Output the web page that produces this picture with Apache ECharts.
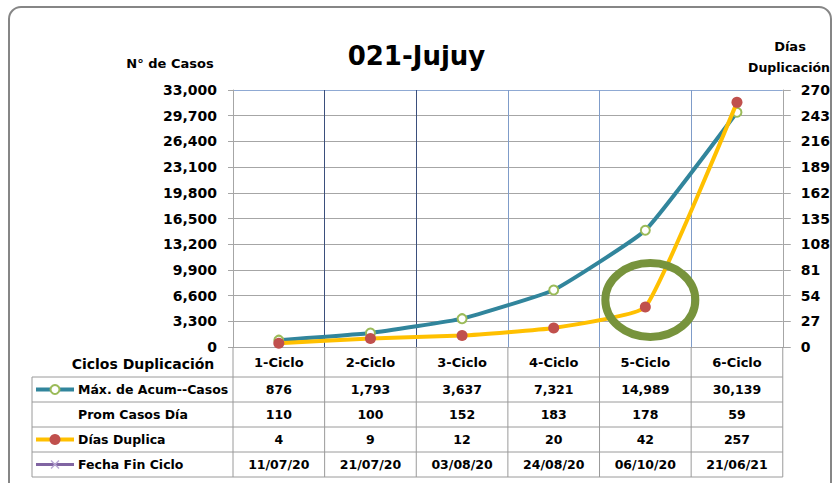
<!DOCTYPE html>
<html>
<head>
<meta charset="utf-8">
<script src="https://cdn.jsdelivr.net/npm/echarts@6/dist/echarts.min.js"></script>
<style>
  html, body { margin: 0; padding: 0; background: #fff; }
  #chart { width: 833px; height: 483px; }
</style>
</head>
<body>
<div id="chart"></div>
<script>
// datos del grafico
const ciclos = ['1-Ciclo', '2-Ciclo', '3-Ciclo', '4-Ciclo', '5-Ciclo', '6-Ciclo'];
const maxAcumCasos = [876, 1793, 3637, 7321, 14989, 30139];
const promCasosDia = [110, 100, 152, 183, 178, 59];
const diasDuplica = [4, 9, 12, 20, 42, 257];
const fechaFinCiclo = ['11/07/20', '21/07/20', '03/08/20', '24/08/20', '06/10/20', '21/06/21'];
const rowNames = ['Máx. de Acum--Casos', 'Prom Casos Día', 'Días Duplica', 'Fecha Fin Ciclo'];

const FONT = '"DejaVu Sans", sans-serif';
const TEAL = '#31859c';
const GREEN = '#9bbb59';
const YELLOW = '#ffc000';
const RED = '#c0504d';
const PURPLE = '#8064a2';
const GRID_GRAY = '#a6a6a6';
const TABLE_GRAY = '#9a9a9a';

const fmt = v => v.toLocaleString('en-US');

const chart = echarts.init(document.getElementById('chart'), null, { renderer: 'svg' });

const gridLeft = 233, gridRight = 46, gridTop = 90, gridBottom = 136;
const plotBottom = 483 - gridBottom;

const option = {
  animation: false,
  backgroundColor: '#fff',
  title: {
    text: '021-Jujuy',
    left: 'center',
    top: 38,
    textStyle: { fontFamily: FONT, fontSize: 26, fontWeight: 'bold', color: '#000' }
  },
  grid: { left: gridLeft, right: gridRight, top: gridTop, bottom: gridBottom, containLabel: false },
  xAxis: {
    type: 'category',
    data: ciclos,
    boundaryGap: true,
    axisLine: { lineStyle: { color: GRID_GRAY, width: 1 } },
    axisTick: { show: false },
    axisLabel: { fontFamily: FONT, fontSize: 13, fontWeight: 'bold', color: '#000', margin: 9 },
    splitLine: {
      show: true,
      lineStyle: {
        width: 1,
        color: [GRID_GRAY, '#3b4f7c', '#3b4f7c', '#7f9cc9', '#7f9cc9', '#7f9cc9', GRID_GRAY]
      }
    }
  },
  yAxis: [
    {
      type: 'value',
      min: 0,
      max: 33000,
      interval: 3300,
      axisLine: { show: true, lineStyle: { color: GRID_GRAY } },
      axisTick: { show: true, length: 5, lineStyle: { color: GRID_GRAY } },
      axisLabel: {
        fontFamily: FONT, fontSize: 14, fontWeight: 'bold', color: '#000', margin: 16,
        formatter: v => fmt(v)
      },
      splitLine: {
        lineStyle: {
          color: [GRID_GRAY, GRID_GRAY, GRID_GRAY, GRID_GRAY, GRID_GRAY, GRID_GRAY,
                  GRID_GRAY, GRID_GRAY, GRID_GRAY, GRID_GRAY, '#8fa9d3']
        }
      }
    },
    {
      type: 'value',
      min: 0,
      max: 270,
      interval: 27,
      position: 'right',
      axisLine: { show: true, lineStyle: { color: GRID_GRAY } },
      axisTick: { show: true, length: 8, lineStyle: { color: GRID_GRAY } },
      axisLabel: { fontFamily: FONT, fontSize: 14, fontWeight: 'bold', color: '#000', margin: 18 },
      splitLine: { show: false }
    }
  ],
  series: [
    {
      name: rowNames[0],
      type: 'line',
      data: maxAcumCasos,
      yAxisIndex: 0,
      smooth: 0.12,
      symbol: 'emptyCircle',
      symbolSize: 9,
      lineStyle: { color: TEAL, width: 4 },
      itemStyle: { color: GREEN, borderColor: GREEN, borderWidth: 2 },
      z: 3
    },
    {
      name: rowNames[2],
      type: 'line',
      data: diasDuplica,
      yAxisIndex: 1,
      smooth: 0.12,
      symbol: 'circle',
      symbolSize: 11,
      lineStyle: { color: YELLOW, width: 4 },
      itemStyle: { color: RED },
      z: 4
    }
  ]
};

chart.setOption(option);

// tabla de datos y anotaciones
const cx = ciclos.map((c, i) => chart.convertToPixel({ xAxisIndex: 0 }, i));
const half = (cx[1] - cx[0]) / 2;
const plotRight = cx[cx.length - 1] + half;
const tableLeft = 32;
const headerBottom = plotBottom + 30;
const rowH = 25;
const rows = [maxAcumCasos.map(fmt), promCasosDia.map(String), diasDuplica.map(String), fechaFinCiclo];

const g = [];
const txt = (x, y, text, opts) => g.push({
  type: 'text', x, y, z: 10,
  style: Object.assign({
    text, fontFamily: FONT, fontSize: 12, fontWeight: 'bold', fill: '#000',
    align: 'center', verticalAlign: 'middle'
  }, opts || {})
});
const seg = (x1, y1, x2, y2, stroke, lineWidth) => g.push({
  type: 'line', z: 9, silent: true,
  shape: { x1, y1, x2, y2 },
  style: { stroke, lineWidth: lineWidth || 1 }
});

// marco redondeado
g.push({
  type: 'rect', z: 0, silent: true,
  shape: { x: 9, y: 7, width: 822, height: 490, r: 12 },
  style: { fill: 'none', stroke: '#868686', lineWidth: 2 }
});

// titulos de ejes
txt(170, 63, 'N° de Casos', { fontSize: 13 });
txt(790, 46, 'Días', { fontSize: 13 });
txt(789, 67, 'Duplicación', { fontSize: 12.5 });

// encabezado
txt(143, plotBottom + 17, 'Ciclos Duplicación', { fontSize: 14 });

// lineas horizontales
for (let r = 0; r <= rows.length; r++) {
  const y = headerBottom + r * rowH;
  seg(tableLeft, y, plotRight, y, TABLE_GRAY);
}
const tableBottom = headerBottom + rows.length * rowH;
// lineas verticales
seg(tableLeft, headerBottom, tableLeft, tableBottom, TABLE_GRAY);
for (let i = 0; i <= ciclos.length; i++) {
  const x = cx[0] - half + i * 2 * half;
  seg(x, plotBottom, x, tableBottom, TABLE_GRAY);
}

// celdas
rows.forEach((vals, r) => {
  const y = headerBottom + r * rowH + rowH / 2;
  txt(78, y, rowNames[r], { align: 'left', fontSize: 12.5 });
  vals.forEach((v, i) => txt(cx[i], y, v, { fontSize: 12.5 }));
});

// iconos de leyenda
const iconY = r => headerBottom + r * rowH + rowH / 2;
seg(36, iconY(0), 74, iconY(0), TEAL, 4);
g.push({ type: 'circle', z: 11, shape: { cx: 55, cy: iconY(0), r: 4.5 }, style: { fill: '#fff', stroke: GREEN, lineWidth: 2 } });
seg(36, iconY(2), 74, iconY(2), YELLOW, 4);
g.push({ type: 'circle', z: 11, shape: { cx: 55, cy: iconY(2), r: 5.5 }, style: { fill: RED } });
seg(36, iconY(3), 74, iconY(3), PURPLE, 3);
seg(51, iconY(3) - 4, 59, iconY(3) + 4, '#b9a7d4', 1.5);
seg(51, iconY(3) + 4, 59, iconY(3) - 4, '#b9a7d4', 1.5);

// circulo verde sobre el 5-Ciclo
const p5 = chart.convertToPixel({ xAxisIndex: 0, yAxisIndex: 1 }, [4, diasDuplica[4]]);
g.push({
  type: 'ellipse', z: 12, silent: true,
  shape: { cx: p5[0] + 5, cy: p5[1] - 7, rx: 45, ry: 37 },
  style: { fill: 'none', stroke: '#77933c', lineWidth: 8 }
});

chart.setOption({ graphic: g });
</script>
</body>
</html>
